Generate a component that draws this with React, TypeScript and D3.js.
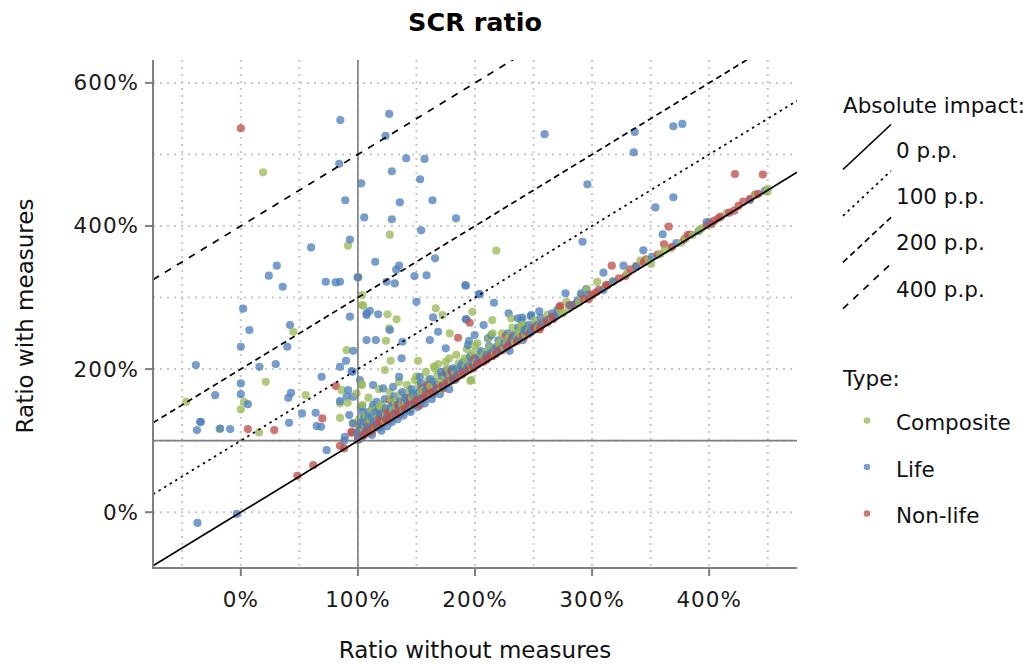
import React from "react";
import * as d3 from "d3";

// ---------- data (values in %) ----------
const xTickValues = [0, 100, 200, 300, 400];
const yTickValues = [0, 200, 400, 600];
const xGridValues = [-50, 0, 50, 100, 150, 200, 250, 300, 350, 400, 450];
const yGridValues = [0, 100, 200, 300, 400, 500, 600];
const impactLevels = [0, 100, 200, 400];
const impactLabels = ["0 p.p.", "100 p.p.", "200 p.p.", "400 p.p."];
const impactDash = ["", "2.5,4", "6,4", "7,7"];
const typeNames = ["Composite", "Life", "Non-life"];
const typeColors = ["#9bbb59", "#4f81bd", "#c0504d"];

const compositePoints: [number, number][] = [
  [19, 475], [91.5, 372.5], [127.3, 387.8], [218.2, 365.5], [103.4, 303.5], [104.5, 288.5],
  [44.8, 252.2], [21.3, 182.2], [-46.6, 154.3], [2.8, 154.3], [0, 143.6], [-18.2, 116.1],
  [15.6, 111.5], [55.4, 163.6], [84.7, 131.9], [91.2, 152.9], [86.1, 170.6], [98.9, 166],
  [95.5, 124], [103.4, 178.6], [90.4, 226.6], [103.7, 289.5], [125.3, 276.5], [133, 269.5],
  [166.5, 284.9], [172.2, 275.5], [197.8, 280.1], [214.8, 268.5], [231, 270.9], [240.4, 261.5],
  [126.7, 256.9], [123.9, 239.6], [178.4, 249.9], [127.9, 211.6], [151.4, 211.6], [168.5, 207],
  [165.6, 201], [123, 198.6], [103.2, 177.6], [148.6, 184.6], [191.2, 215], [198.3, 222],
  [209.7, 224.2], [221, 236.8], [238.1, 249.9], [246.6, 255.5], [196.9, 184.6], [84.7, 152],
  [102.3, 147.3], [118.8, 148.3], [155.7, 170.6], [108.8, 128.7], [130.1, 142.7], [304.3, 322],
  [295.5, 311.9], [317.7, 323], [290.7, 303.5], [278, 294.1], [275, 277.9], [341.3, 351.5],
  [350.4, 346.9], [358.3, 360.8], [367, 368.8], [376.4, 376.6], [385.8, 387.4], [393.8, 396.8],
  [449.8, 448], [196, 183.6], [239.6, 261.5],
  [102, 120], [105, 113], [107, 135], [110, 124], [112, 145], [115, 118], [117, 132], [120, 150],
  [123, 127], [125, 140], [128, 158], [131, 135], [133, 148], [136, 165], [139, 142], [141, 153],
  [144, 170], [147, 148], [149, 162], [152, 178], [155, 156], [157, 168], [160, 185], [163, 165],
  [166, 176], [168, 192], [171, 172], [174, 185], [177, 200], [180, 184], [183, 195], [186, 208],
  [189, 192], [192, 204], [195, 215], [198, 200], [201, 210], [205, 222], [209, 214], [213, 230],
  [217, 222], [221, 234], [225, 230], [229, 245], [234, 238], [238, 252], [243, 248], [248, 258],
  [254, 257], [260, 268], [266, 270], [273, 280], [280, 284], [289, 293], [300, 303], [312, 316],
  [330, 334], [348, 352], [362, 366], [380, 383], [392, 395], [415, 418], [440, 443], [450, 452],
  [178, 215], [200, 232], [215, 250],
  [101, 130], [104, 150], [106, 122], [109, 160], [111, 128], [114, 142], [118, 172], [121, 146],
  [124, 136], [127, 168], [132, 155], [135, 182], [138, 150], [142, 178], [146, 160], [150, 190],
  [154, 168], [158, 196], [162, 176], [165, 204], [170, 182], [175, 210], [179, 192], [184, 220],
  [188, 200], [193, 228], [197, 206], [202, 236], [207, 218], [212, 244], [218, 228], [223, 250],
  [227, 236], [232, 258], [236, 244], [241, 262], [246, 252], [251, 268], [256, 262], [262, 276],
];

const lifePoints: [number, number][] = [
  [85, 548], [126.7, 556.6], [123.6, 525.9], [84, 487], [141.2, 494.7], [156.9, 493.7],
  [129, 476.5], [153.1, 465.3], [102.8, 459.7], [89.2, 436], [135.8, 433.1], [163.7, 436],
  [105.4, 412], [129, 409.4], [183.8, 410.7], [154, 394], [93.2, 381], [60, 370],
  [30.7, 344.5], [23.9, 330.5], [114.8, 350], [165.9, 354.8], [135.2, 344.5], [132.7, 338.9],
  [148.3, 330], [158.6, 331], [259.4, 528.3], [369.4, 539.4], [377.1, 542.6], [336.4, 531.5],
  [335.6, 503], [296, 458.3], [369.4, 440], [354, 426], [291.8, 378], [360.3, 388.4],
  [343.8, 366], [309.7, 334.7], [326.8, 344.5], [277.3, 305.9], [290.7, 305.9], [254.9, 280.7],
  [228.7, 277.9], [247.7, 274], [240.4, 272], [100.3, 328.2], [124.5, 322.1], [131.5, 319.8],
  [191.8, 317.5], [150, 294.1], [204, 304.9], [216.2, 292.7], [110.2, 281.5], [107.4, 275.5],
  [117.3, 276.5], [164.2, 272.3], [192.1, 269.5], [207.4, 261.5], [239.6, 268.5], [248, 275.5],
  [127.3, 254.5], [107.4, 240.6], [115.3, 240.6], [138.1, 238.2], [161.4, 240.6], [168.5, 252.2],
  [194.9, 239.6], [194, 233.6], [199.7, 247.6], [211.1, 242.9], [214, 247.6], [96, 225.6],
  [89.8, 211.6], [137.3, 215], [175, 229], [175.6, 198.6], [181.2, 201], [95.5, 196.2],
  [84.7, 203.2], [101.7, 184.6], [135.2, 189.2], [152.9, 189.2], [204, 216.4], [218.2, 231.2],
  [226.8, 235.9], [232.4, 242.9], [242.4, 254.5], [188.4, 198.6], [90.4, 161.3], [113, 177.6],
  [121.6, 173], [130.1, 175.2], [115.9, 154.3], [141.5, 159], [167.1, 177.6], [182.7, 184.6],
  [106, 133.3], [96, 124], [88.9, 105.3], [144.3, 142.7], [35.8, 315.1], [72.5, 322.1],
  [81, 321.2], [84.7, 322.1], [99.7, 328.2], [93.2, 273.2], [2, 284.4], [7.3, 254.5],
  [42, 261.5], [39.7, 231.2], [0, 231.2], [-38.4, 205.6], [15.9, 203.2], [29.8, 207],
  [0, 180], [-21.9, 163.6], [0, 165], [6, 151], [-34.7, 126.3], [-37.5, 114.7],
  [-17.6, 117], [-9.1, 116.1], [41.2, 124.9], [42.9, 166.9], [40.6, 159.9], [52.3, 138],
  [63.9, 138.9], [69, 189.2], [64.8, 120.3], [68.5, 119.3], [107.4, 277.9], [94.6, 197.2],
  [84.7, 155.2], [91.7, 170.6], [96, 161.3], [92.6, 135.7], [73.3, 86.7], [88.3, 99.7],
  [103.4, 147.3], [-37, -15], [-3.4, -2.4], [-34.1, 125.9], [192.1, 316.5], [203.4, 304.5],
  [192.7, 269.5], [229.6, 225.6], [295, 311.9], [309.7, 310.5], [288.1, 296.5], [270.3, 282.5],
  [351.2, 357], [391, 393], [397.8, 405.6], [434.8, 436.4], [447.6, 449.4], [236.7, 270.9],
  [243.8, 252.2], [248.1, 258.3], [240.9, 240.6],
  [101, 112], [103, 118], [104, 106], [106, 125], [107, 115], [109, 130], [111, 120], [112, 108],
  [114, 127], [115, 140], [117, 122], [119, 135], [120, 114], [122, 130], [124, 145], [125, 120],
  [127, 138], [129, 126], [130, 150], [132, 140], [134, 130], [136, 155], [137, 145], [139, 135],
  [141, 160], [143, 150], [145, 140], [147, 165], [149, 156], [151, 147], [153, 170], [155, 160],
  [157, 152], [159, 176], [161, 166], [163, 158], [165, 182], [168, 172], [170, 165], [172, 190],
  [175, 180], [178, 172], [180, 196], [183, 188], [186, 192], [188, 205], [191, 198], [194, 203],
  [197, 210], [200, 206], [203, 215], [206, 212], [210, 220], [213, 222], [217, 228], [221, 226],
  [225, 236], [230, 238], [234, 248], [238, 244], [243, 255], [248, 252], [253, 262], [258, 265],
  [264, 270], [270, 275], [282, 289], [287, 293], [297, 304], [318, 322], [338, 343], [372, 376],
  [400, 405], [101, 102], [103, 105], [100, 110], [102, 125], [104, 140],
  [100, 105], [101, 115], [102, 108], [104, 120], [105, 130], [106, 110], [108, 122], [109, 140],
  [110, 116], [112, 132], [113, 150], [116, 128], [118, 144], [119, 118], [121, 138], [123, 158],
  [126, 132], [128, 146], [131, 162], [133, 136], [135, 148], [138, 168], [140, 142], [142, 156],
  [146, 172], [148, 150], [150, 164], [154, 180], [156, 158], [158, 170], [162, 186], [164, 164],
  [167, 178], [171, 196], [173, 176], [177, 190], [181, 186], [184, 200], [187, 195], [190, 210],
  [193, 200], [196, 218], [202, 208], [205, 225], [209, 216], [212, 232], [216, 224], [220, 240],
  [224, 230], [228, 250], [233, 240], [237, 258], [242, 250], [246, 262], [251, 258], [256, 272],
  [261, 268], [266, 278],
];

const nonLifePoints: [number, number][] = [
  [0, 536.6], [422, 472.7], [445.8, 471.8], [365.4, 399], [361.5, 374.4], [316.8, 344.5],
  [195.5, 264.8], [185.5, 243.8], [232.4, 245.2], [127.3, 156.6], [135.8, 147.3], [158.6, 163.6],
  [172.7, 173], [101.7, 119.3], [94.6, 112.3], [127.3, 138], [152.9, 149.7], [6, 116.1],
  [28.6, 114.7], [69.6, 131], [81.2, 176.2], [94.6, 110.9], [61.9, 65.7], [84.7, 92.7],
  [88.3, 89], [48.3, 50.8], [313.4, 317.5], [439.3, 443.8], [429.1, 434], [421.4, 421.4],
  [417.1, 418.6], [410, 413], [404.3, 407.4], [402, 402.8], [381.6, 387.4], [378.8, 381.4],
  [368.3, 371], [346.1, 353.4], [337.6, 344], [332.7, 339.4], [328.5, 330], [312, 317.5],
  [303.5, 307.3], [297.2, 297.5], [280.7, 289.5], [273, 288.5], [266.5, 273.1], [272.2, 287.1],
  [226.2, 246.2], [255.2, 255.5], [263.7, 269.5],
  [102, 104], [105, 108], [108, 112], [110, 111], [113, 117], [116, 119], [118, 121], [121, 124],
  [124, 129], [126, 128], [129, 133], [132, 137], [135, 137], [138, 142], [140, 146], [143, 147],
  [146, 150], [149, 152], [152, 157], [155, 158], [158, 162], [161, 166], [164, 167], [167, 172],
  [170, 173], [173, 178], [176, 180], [179, 184], [182, 185], [185, 190], [189, 193], [192, 197],
  [196, 201], [199, 202], [203, 208], [207, 210], [211, 216], [215, 218], [219, 224], [223, 226],
  [228, 232], [232, 236], [237, 241], [242, 245], [247, 252], [252, 256], [257, 262], [262, 265],
  [268, 273], [285, 290], [293, 298], [300, 304], [306, 311], [323, 327], [344, 349], [356, 360],
  [384, 388], [398, 401], [408, 411], [425, 428], [435, 438], [442, 445], [120, 132], [134, 150],
  [160, 178], [175, 195], [145, 160], [200, 215],
  [100, 101], [103, 107], [106, 109], [109, 115], [112, 113], [115, 121], [119, 123], [122, 127],
  [125, 131], [128, 130], [131, 136], [134, 140], [137, 139], [141, 145], [144, 149], [147, 151],
  [150, 155], [153, 156], [157, 161], [160, 164], [163, 168], [166, 169], [169, 175], [172, 176],
  [178, 182], [181, 187], [184, 187], [188, 192], [191, 196], [195, 199], [198, 204], [202, 206],
  [206, 212], [210, 213], [214, 219], [218, 221], [222, 228], [227, 230], [231, 237], [236, 239],
  [241, 247], [246, 249], [251, 258], [256, 259], [261, 267], [267, 270], [110, 122], [118, 130],
  [125, 140], [140, 155], [155, 172], [180, 198],
];

const seriesPoints = [compositePoints, lifePoints, nonLifePoints];

// ---------- layout ----------
const W = 1032;
const H = 666;
const P = { left: 153, right: 797, top: 60, bottom: 568 };
const FONT = "'DejaVu Sans', Verdana, sans-serif";

type Pt = { x: number; y: number; s: number; k: string };

export default function App() {
  const x = d3.scaleLinear().domain([-75, 475]).range([P.left, P.right]);
  const y = d3.scaleLinear().domain([-78, 632]).range([P.bottom, P.top]);
  const [x0, x1] = x.domain();
  const diag = d3.line<[number, number]>().x((d) => x(d[0])).y((d) => y(d[1]));
  const pct = (v: number) => `${v}%`;
  const axisGray = "#7f7f7f";

  // merge the three series and draw them in order of x so colours mix
  const drawOrder: Pt[] = [];
  seriesPoints.forEach((pts, si) =>
    pts.forEach((d, i) => drawOrder.push({ x: d[0], y: d[1], s: si, k: si + "-" + i }))
  );
  drawOrder.sort((a, b) => d3.ascending(a.x, b.x));

  return (
    <svg
      width={W}
      height={H}
      style={{ position: "absolute", left: 0, top: 0, background: "#fff" }}
      fontFamily={FONT}
    >
      <defs>
        <clipPath id="panel">
          <rect x={P.left} y={P.top} width={P.right - P.left} height={P.bottom - P.top} />
        </clipPath>
      </defs>
      <rect width={W} height={H} fill="#fff" />

      {/* grid */}
      <g stroke="#c8c8c8" strokeWidth={2} strokeDasharray="2,5">
        {xGridValues.map((v) => (
          <line key={"gx" + v} x1={x(v)} x2={x(v)} y1={P.top} y2={P.bottom} />
        ))}
        {yGridValues.map((v) => (
          <line key={"gy" + v} x1={P.left} x2={P.right} y1={y(v)} y2={y(v)} />
        ))}
      </g>

      {/* points */}
      <g clipPath="url(#panel)">
        {drawOrder.map((d) => (
          <circle
            key={d.k}
            cx={x(d.x)}
            cy={y(d.y)}
            r={4.1}
            fill={typeColors[d.s]}
            fillOpacity={0.78}
          />
        ))}
      </g>

      {/* reference lines */}
      <g stroke={axisGray} strokeWidth={1.6}>
        <line x1={x(100)} x2={x(100)} y1={P.top} y2={P.bottom} />
        <line x1={P.left} x2={P.right} y1={y(100)} y2={y(100)} />
      </g>

      {/* impact lines */}
      <g clipPath="url(#panel)" fill="none" stroke="#000" strokeWidth={1.7}>
        {impactLevels.map((c, i) => (
          <path
            key={"imp" + c}
            d={diag([[x0, x0 + c], [x1, x1 + c]]) || ""}
            strokeDasharray={impactDash[i] || undefined}
          />
        ))}
      </g>

      {/* axes */}
      <g stroke={axisGray} strokeWidth={2}>
        <line x1={P.left} x2={P.left} y1={P.top} y2={P.bottom + 1} />
        <line x1={P.left - 1} x2={P.right} y1={P.bottom} y2={P.bottom} />
        {yTickValues.map((v) => (
          <line key={"ty" + v} x1={P.left - 8} x2={P.left} y1={y(v)} y2={y(v)} />
        ))}
        {xTickValues.map((v) => (
          <line key={"tx" + v} x1={x(v)} x2={x(v)} y1={P.bottom} y2={P.bottom + 8} />
        ))}
      </g>
      <g fontSize={21.5} fill="#1a1a1a" letterSpacing={1}>
        {yTickValues.map((v) => (
          <text key={"ly" + v} x={139} y={y(v) + 7.5} textAnchor="end">
            {pct(v)}
          </text>
        ))}
        {xTickValues.map((v) => (
          <text key={"lx" + v} x={x(v)} y={607} textAnchor="middle">
            {pct(v)}
          </text>
        ))}
      </g>
      <text x={(P.left + P.right) / 2} y={658} textAnchor="middle" fontSize={23} fill="#111">
        Ratio without measures
      </text>
      <text
        transform={`translate(33, 316) rotate(-90)`}
        textAnchor="middle"
        fontSize={23}
        fill="#111"
      >
        Ratio with measures
      </text>
      <text
        x={(P.left + P.right) / 2}
        y={31}
        textAnchor="middle"
        fontSize={25.5}
        fontWeight="bold"
        fill="#000"
      >
        SCR ratio
      </text>

      {/* legend */}
      <g fontSize={21.5} fill="#111">
        <text x={843} y={113}>Absolute impact:</text>
        {impactLabels.map((lab, i) => {
          const yb = 169.5 + 46.4 * i;
          return (
            <g key={"li" + i}>
              <line
                x1={843}
                y1={yb}
                x2={891}
                y2={yb - 45}
                stroke="#000"
                strokeWidth={1.7}
                strokeDasharray={impactDash[i] || undefined}
              />
              <text x={896} y={158 + 46.2 * i}>{lab}</text>
            </g>
          );
        })}
        <text x={843} y={386}>Type:</text>
        {typeNames.map((t, i) => (
          <g key={"lt" + t}>
            <circle cx={867} cy={420.5 + 46.5 * i} r={3.3} fill={typeColors[i]} fillOpacity={0.78} />
            <text x={896} y={430 + 46.5 * i}>{t}</text>
          </g>
        ))}
      </g>
    </svg>
  );
}
